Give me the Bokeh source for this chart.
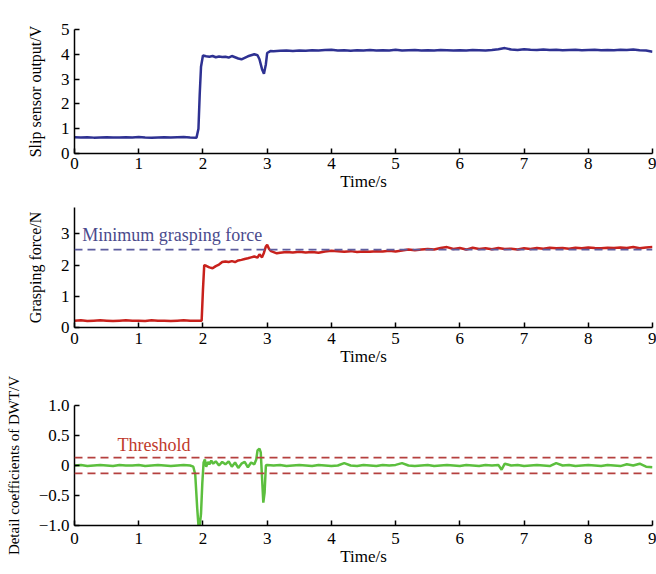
from bokeh.plotting import figure
from bokeh.layouts import column
from bokeh.models import Range1d, FixedTicker, Span, Label
from bokeh.embed import file_html
from bokeh.resources import INLINE

# ---------------- data ----------------
x_ticks = [0, 1, 2, 3, 4, 5, 6, 7, 8, 9]

slip_t = [0.0, 0.1, 0.2, 0.3, 0.4, 0.5, 0.6, 0.7, 0.8, 0.9, 1.0, 1.1, 1.2, 1.3, 1.4, 1.5, 1.6, 1.7, 1.8, 1.9,
          1.93, 1.95, 1.97, 2.0, 2.05, 2.1, 2.15, 2.2, 2.25, 2.3, 2.35, 2.4, 2.45, 2.5, 2.55, 2.6, 2.65, 2.7,
          2.75, 2.8, 2.85, 2.88, 2.92, 2.95, 2.98, 3.0, 3.05, 3.1,
          3.2, 3.3, 3.4, 3.5, 3.6, 3.7, 3.8, 3.9, 4.0, 4.1, 4.2, 4.3, 4.4, 4.5, 4.6, 4.7, 4.8, 4.9, 5.0,
          5.1, 5.2, 5.3, 5.4, 5.5, 5.6, 5.7, 5.8, 5.9, 6.0, 6.1, 6.2, 6.3, 6.4, 6.5, 6.6, 6.7, 6.8, 6.9,
          7.0, 7.1, 7.2, 7.3, 7.4, 7.5, 7.6, 7.7, 7.8, 7.9, 8.0, 8.1, 8.2, 8.3, 8.4, 8.5, 8.6, 8.7, 8.8,
          8.9, 9.0]
slip_v = [0.66, 0.65, 0.66, 0.64, 0.65, 0.66, 0.65, 0.65, 0.66, 0.65, 0.67, 0.65, 0.64, 0.65, 0.66, 0.65,
          0.66, 0.67, 0.65, 0.64,
          1.0, 2.4, 3.5, 3.95, 3.92, 3.9, 3.93, 3.88, 3.91, 3.89, 3.9, 3.87, 3.93, 3.88, 3.83, 3.8, 3.86,
          3.92, 3.96, 4.0, 3.96, 3.8, 3.4, 3.22, 3.6, 4.05, 4.13, 4.12,
          4.14, 4.15, 4.13, 4.15, 4.14, 4.16, 4.15, 4.17, 4.18, 4.15, 4.16, 4.14, 4.16, 4.15, 4.17, 4.15,
          4.16, 4.15, 4.18, 4.15, 4.16, 4.17, 4.15, 4.16, 4.15, 4.17, 4.16, 4.15, 4.16, 4.15, 4.17, 4.16,
          4.15, 4.17, 4.2, 4.25, 4.19, 4.17, 4.2, 4.18, 4.17, 4.19, 4.17, 4.18, 4.16, 4.17, 4.18, 4.16,
          4.17, 4.18, 4.16, 4.17, 4.16, 4.18, 4.17, 4.19, 4.16, 4.15, 4.1]

force_t = [0.0, 0.1, 0.2, 0.3, 0.4, 0.5, 0.6, 0.7, 0.8, 0.9, 1.0, 1.1, 1.2, 1.3, 1.4, 1.5, 1.6, 1.7, 1.8, 1.9,
           1.98, 2.0, 2.02, 2.05, 2.1, 2.15, 2.2, 2.25, 2.3, 2.35, 2.4, 2.45, 2.5, 2.55, 2.6, 2.65, 2.7,
           2.75, 2.8, 2.85, 2.88, 2.92, 2.95, 2.98, 3.0, 3.03, 3.06, 3.1, 3.15, 3.2, 3.3, 3.4, 3.5, 3.6,
           3.7, 3.8, 3.9, 4.0, 4.1, 4.2, 4.3, 4.4, 4.5, 4.6, 4.7, 4.8, 4.9, 5.0, 5.1, 5.2, 5.3, 5.4, 5.5,
           5.6, 5.7, 5.8, 5.9, 6.0, 6.1, 6.2, 6.3, 6.4, 6.5, 6.6, 6.7, 6.8, 6.9, 7.0, 7.1, 7.2, 7.3, 7.4,
           7.5, 7.6, 7.7, 7.8, 7.9, 8.0, 8.1, 8.2, 8.3, 8.4, 8.5, 8.6, 8.7, 8.8, 8.9, 9.0]
force_v = [0.22, 0.23, 0.21, 0.22, 0.23, 0.22, 0.21, 0.22, 0.23, 0.22, 0.22, 0.21, 0.23, 0.22, 0.22, 0.21,
           0.22, 0.23, 0.22, 0.22,
           0.22, 1.2, 2.0, 1.98, 1.93, 1.9, 1.97, 2.02, 2.1, 2.12, 2.1, 2.13, 2.1, 2.15, 2.17, 2.2, 2.22,
           2.25, 2.28, 2.24, 2.35, 2.25, 2.4, 2.6, 2.65, 2.52, 2.45, 2.42, 2.38, 2.4, 2.42, 2.41, 2.43,
           2.41, 2.42, 2.4, 2.44, 2.46, 2.45, 2.43, 2.45, 2.42, 2.44, 2.43, 2.45, 2.44, 2.46, 2.44, 2.47,
           2.5, 2.48, 2.5, 2.52, 2.5, 2.55, 2.58, 2.52, 2.55, 2.5, 2.56, 2.52, 2.54, 2.51, 2.55, 2.52,
           2.53, 2.5, 2.54, 2.52, 2.55, 2.53, 2.56, 2.54, 2.55, 2.53, 2.56, 2.54, 2.57, 2.55, 2.54, 2.56,
           2.55, 2.57, 2.55, 2.58, 2.54, 2.57, 2.58]
min_force = 2.5

dwt_t = [0.0, 0.1, 0.2, 0.3, 0.4, 0.5, 0.6, 0.7, 0.8, 0.9, 1.0, 1.1, 1.2, 1.3, 1.4, 1.5, 1.6, 1.7, 1.8,
         1.85, 1.88, 1.91, 1.93, 1.95, 1.97, 1.99, 2.01, 2.03, 2.05, 2.08, 2.1, 2.13, 2.16, 2.2, 2.25,
         2.3, 2.35, 2.4, 2.45, 2.5, 2.55, 2.6, 2.65, 2.7, 2.75, 2.8, 2.83, 2.85, 2.88, 2.9, 2.92, 2.94,
         2.96, 2.98, 3.0, 3.1, 3.2, 3.3, 3.4, 3.5, 3.6, 3.7, 3.8, 3.9, 4.0, 4.1, 4.2, 4.3, 4.4, 4.5,
         4.6, 4.7, 4.8, 4.9, 5.0, 5.1, 5.2, 5.3, 5.4, 5.5, 5.6, 5.7, 5.8, 5.9, 6.0, 6.1, 6.2, 6.3, 6.4,
         6.5, 6.6, 6.65, 6.7, 6.8, 6.9, 7.0, 7.1, 7.2, 7.3, 7.4, 7.5, 7.6, 7.7, 7.8, 7.9, 8.0, 8.1,
         8.2, 8.3, 8.4, 8.5, 8.6, 8.7, 8.8, 8.9, 9.0]
dwt_v = [0.0, 0.01, -0.01, 0.0, 0.01, 0.0, -0.01, 0.01, 0.0, 0.0, 0.01, -0.01, 0.0, 0.01, 0.0, -0.01,
         0.0, 0.01, 0.0,
         -0.02, -0.15, -0.7, -1.0, -1.0, -0.8, -0.3, 0.05, 0.1, -0.02, 0.06, 0.02, 0.08, 0.03, 0.07,
         0.0, 0.06, 0.02, 0.07, -0.02, 0.05, -0.04, 0.03, 0.06, -0.03, 0.05, 0.02, 0.1, 0.25, 0.28,
         0.22, -0.2, -0.62, -0.45, 0.0, 0.01, 0.0,
         0.01, -0.01, 0.0, 0.01, 0.0, -0.01, 0.01, 0.0, -0.01, 0.0, 0.04, 0.0, -0.01, 0.01, 0.0,
         -0.01, 0.01, 0.0, 0.01, 0.04, 0.0, -0.01, 0.0, 0.01, -0.01, 0.0, 0.01, 0.0, -0.01, 0.01,
         0.0, -0.01, 0.01, 0.0, 0.01, -0.07, 0.03, 0.0, 0.01, -0.01, 0.0, 0.01, 0.0, -0.01, 0.04,
         0.0, 0.01, -0.01, 0.0, 0.01, 0.0, -0.01, 0.01, 0.0, -0.01, 0.02, 0.0, 0.03, -0.02, -0.03]
threshold = 0.13

# ---------------- styling helpers ----------------
SERIF = "Liberation Serif"
FW = 578


def make_fig(ymin, ymax, yticks, ylabel, top, fh, bottom, xstand, ylab_size="16px", overrides=None):
    p = figure(frame_width=FW, frame_height=fh, output_backend="svg", toolbar_location=None,
               x_range=Range1d(0, 9), y_range=Range1d(ymin, ymax),
               min_border_left=74, min_border_right=4, min_border_top=top, min_border_bottom=bottom)
    p.outline_line_color = None
    p.xgrid.visible = False
    p.ygrid.visible = False
    p.background_fill_color = "white"
    p.border_fill_color = "white"
    for ax in (p.xaxis[0], p.yaxis[0]):
        ax.axis_line_color = "black"
        ax.axis_line_width = 1.5
        ax.major_tick_line_color = "black"
        ax.major_tick_line_width = 1.5
        ax.major_tick_in = 5
        ax.major_tick_out = 0
        ax.minor_tick_line_color = None
        ax.major_label_text_font = SERIF
        ax.major_label_text_font_size = "17px"
        ax.major_label_text_color = "black"
        ax.axis_label_text_font = SERIF
        ax.axis_label_text_font_style = "normal"
        ax.axis_label_text_color = "black"
    p.xaxis.ticker = FixedTicker(ticks=x_ticks)
    p.xaxis.axis_label = "Time/s"
    p.xaxis.axis_label_text_font_size = "17px"
    p.xaxis.major_label_standoff = xstand
    p.xaxis.axis_label_standoff = 0
    p.yaxis.ticker = FixedTicker(ticks=yticks)
    p.yaxis.axis_label = ylabel
    p.yaxis.axis_label_text_font_size = ylab_size
    p.yaxis.major_label_standoff = 5
    p.yaxis.axis_label_standoff = 14
    if overrides:
        p.yaxis.major_label_overrides = overrides
    return p


# Panel 1: slip sensor output
p1 = make_fig(0, 5, [0, 1, 2, 3, 4, 5], "Slip sensor output/V", 29, 124, 43, 4)
p1.line(slip_t, slip_v, line_color="#2e3192", line_width=2.5)

# Panel 2: grasping force
p2 = make_fig(0, 3.85, [0, 1, 2, 3], "Grasping force/N", 11, 120, 44, 5)
p2.add_layout(Span(location=min_force, dimension="width", line_color="#5d5d9e",
                   line_width=1.8, line_dash="8 5"))
p2.line(force_t, force_v, line_color="#c8211c", line_width=2.5)
p2.add_layout(Label(x=0.12, y=2.98, text="Minimum grasping force", text_font=SERIF,
                    text_font_size="18px", text_color="#4a4a8c", text_baseline="middle"))

# Panel 3: DWT detail coefficients
p3 = make_fig(-1.0, 1.0, [-1.0, -0.5, 0, 0.5, 1.0], "Detail coefficients of DWT/V", 34, 120, 48, 7,
              ylab_size="15px",
              overrides={-1.0: "\u22121.0", -0.5: "\u22120.5", 0: "0", 0.5: "0.5", 1.0: "1.0"})
for loc in (threshold, -threshold):
    p3.add_layout(Span(location=loc, dimension="width", line_color="#b5403f",
                       line_width=1.8, line_dash="8 5"))
p3.line(dwt_t, dwt_v, line_color="#5cbf3e", line_width=2.5)
p3.add_layout(Label(x=0.67, y=0.35, text="Threshold", text_font=SERIF,
                    text_font_size="18px", text_color="#c0392b", text_baseline="middle"))

layout = column(p1, p2, p3, spacing=0)
open("out.html", "w").write(file_html(layout, INLINE))
